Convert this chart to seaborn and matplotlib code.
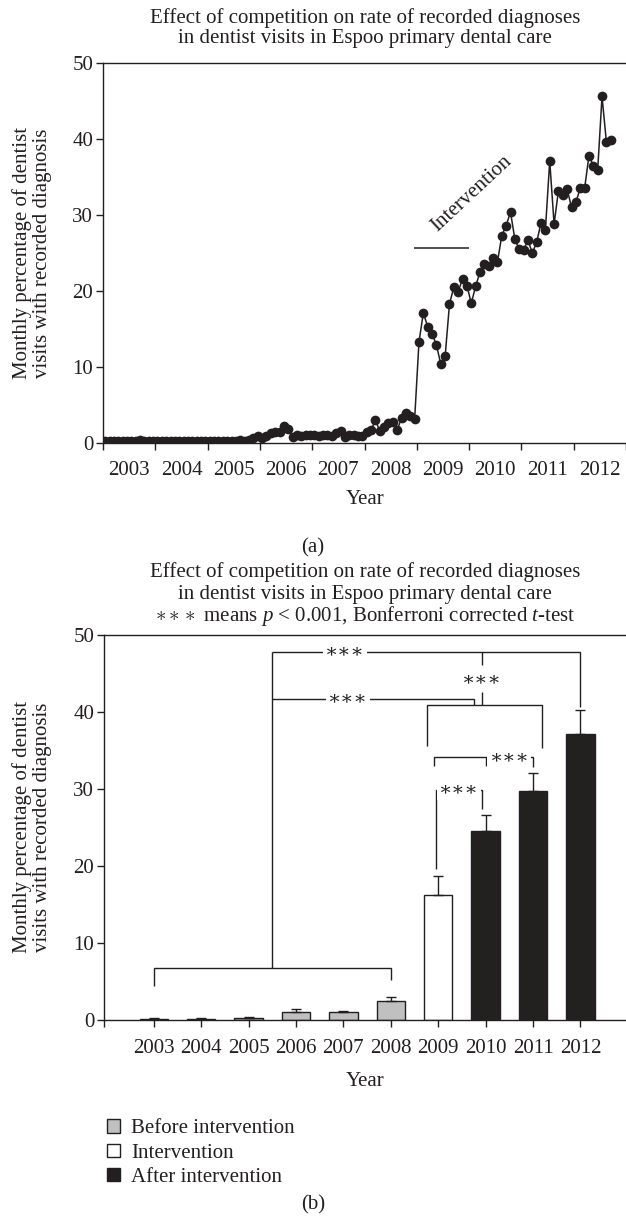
import numpy as np
import pandas as pd
import matplotlib
matplotlib.use("Agg")
import matplotlib.pyplot as plt
from matplotlib.patches import Patch
import seaborn as sns

# (a) monthly percentage of dentist visits with recorded diagnosis
rate_2003 = [0.3, 0.2, 0.3, 0.2, 0.3, 0.2, 0.2, 0.3, 0.4, 0.2, 0.2, 0.2]
rate_2004 = [0.3, 0.2, 0.2, 0.3, 0.2, 0.3, 0.3, 0.2, 0.3, 0.2, 0.3, 0.3]
rate_2005 = [0.2, 0.3, 0.2, 0.2, 0.3, 0.2, 0.3, 0.4, 0.3, 0.4, 0.6, 0.9]
rate_2006 = [0.6, 0.9, 1.3, 1.4, 1.5, 2.3, 1.9, 0.8, 1.0, 0.9, 1.0, 1.1]
rate_2007 = [1.0, 0.9, 1.1, 1.0, 0.9, 1.3, 1.6, 0.8, 1.0, 1.0, 0.9, 0.9]
rate_2008 = [1.5, 1.7, 3.0, 1.6, 2.1, 2.6, 2.8, 1.7, 3.3, 3.9, 3.5, 3.1]
rate_2009 = [13.3, 17.1, 15.3, 14.4, 12.9, 10.4, 11.4, 18.3, 20.5, 19.9, 21.6, 20.7]
rate_2010 = [18.4, 20.6, 22.5, 23.6, 23.3, 24.3, 23.8, 27.3, 28.6, 30.4, 26.8, 25.5]
rate_2011 = [25.4, 26.7, 25.0, 26.4, 29.0, 28.0, 37.1, 28.8, 33.2, 32.6, 33.4, 31.0]
rate_2012 = [31.7, 33.5, 33.5, 37.8, 36.5, 35.9, 45.6, 39.6, 39.9]
years = list(range(2003, 2013))

# (b) yearly means with upper error
bar_years = [str(y) for y in years]
bar_mean = [0.15, 0.15, 0.3, 1.1, 1.0, 2.5, 16.2, 24.5, 29.7, 37.1]
bar_err = [0.05, 0.05, 0.1, 0.3, 0.2, 0.5, 2.5, 2.1, 2.4, 3.1]
phases = ["Before intervention", "Intervention", "After intervention"]
bar_phase = [phases[0]] * 6 + [phases[1]] + [phases[2]] * 3

INK = "#231f20"
phase_colors = {phases[0]: "#c0c0c0", phases[1]: "white", phases[2]: INK}

sns.set_style("ticks")
plt.rcParams["font.family"] = ["Liberation Serif", "DejaVu Serif"]
plt.rcParams["mathtext.fontset"] = "custom"
plt.rcParams["mathtext.rm"] = "Liberation Serif"
plt.rcParams["mathtext.it"] = "Liberation Serif:italic"
plt.rcParams["axes.edgecolor"] = INK
plt.rcParams["axes.linewidth"] = 1.0
plt.rcParams["xtick.color"] = INK
plt.rcParams["ytick.color"] = INK
plt.rcParams["text.color"] = INK

FS = 15
W, H = 626, 1221
fig = plt.figure(figsize=(W / 100, H / 100), dpi=100)


def fx(px):
    return px / W


def fy(py):
    return 1 - py / H


def style_axes(ax):
    ax.spines["right"].set_visible(False)
    ax.set_ylim(0, 50)
    ax.set_yticks(range(0, 51, 10))
    ax.tick_params(axis="y", direction="out", length=5, width=1, labelsize=FS, pad=2)
    ax.tick_params(axis="x", direction="out", length=5, width=1, labelsize=FS)
    ax.set_xlabel("")
    ax.set_ylabel("")


# ---------- (a) ----------
ax1 = fig.add_axes([fx(103), fy(443), 1 - fx(103), fy(63) - fy(443)])
t, v = [], []
for y, vals in zip(years, [rate_2003, rate_2004, rate_2005, rate_2006, rate_2007,
                           rate_2008, rate_2009, rate_2010, rate_2011, rate_2012]):
    for m, val in enumerate(vals):
        t.append(y + (m + 0.5) / 12)
        v.append(val)
df_a = pd.DataFrame({"t": t, "rate": v})
sns.lineplot(data=df_a, x="t", y="rate", ax=ax1, estimator=None, color=INK, lw=1.1,
             marker="o", markersize=7, markeredgewidth=0, markerfacecolor=INK)
style_axes(ax1)
ax1.set_xlim(2003, 2013)
ax1.set_xticks(range(2003, 2014))
ax1.set_xticklabels([])
ax1.set_xticks([y + 0.5 for y in years], minor=True)
ax1.set_xticklabels(years, minor=True)
ax1.tick_params(axis="x", which="minor", length=0, labelsize=FS, pad=13)

ax1.hlines(25.7, 2008.95, 2010.0, color=INK, lw=1.1)
ax1.text(2010.05, 32.8, "Intervention", rotation=43, ha="center", va="center", fontsize=FS)

fig.text(fx(365), fy(18), "Effect of competition on rate of recorded diagnoses", ha="center", va="center", fontsize=FS)
fig.text(fx(365), fy(39), "in dentist visits in Espoo primary dental care", ha="center", va="center", fontsize=FS)
fig.text(fx(32), fy(253), "Monthly percentage of dentist\nvisits with recorded diagnosis", rotation=90,
         ha="center", va="center", fontsize=FS, linespacing=1.1)
fig.text(fx(365), fy(499), "Year", ha="center", va="center", fontsize=FS)
fig.text(fx(313), fy(548), "(a)", ha="center", va="center", fontsize=FS)

# ---------- (b) ----------
ax2 = fig.add_axes([fx(104), fy(1020), 1 - fx(104), fy(635) - fy(1020)])
df_b = pd.DataFrame({"year": bar_years, "mean": bar_mean, "err": bar_err, "phase": bar_phase})
sns.barplot(data=df_b, x="year", y="mean", hue="phase", hue_order=phases, palette=phase_colors,
            dodge=False, width=0.6, edgecolor=INK, linewidth=1, legend=False, ax=ax2)
pos = np.arange(len(bar_years))
ax2.errorbar(pos, df_b["mean"], yerr=[np.zeros(len(pos)), df_b["err"]], fmt="none",
             ecolor=INK, elinewidth=1, capsize=3.6, capthick=1)
style_axes(ax2)
ax2.set_xlim(-1.05, 9.96)
ax2.set_xticks(pos)
ax2.set_xticklabels(bar_years)
ax2.tick_params(axis="x", which="major", pad=9)
ax2.set_xticks([-1.05], minor=True)
ax2.tick_params(axis="x", which="minor", length=5, width=1)


def seg(xs, ys):
    ax2.plot(xs, ys, color=INK, lw=1, solid_capstyle="butt", solid_joinstyle="miter")


def stars(x, y):
    ax2.text(x, y, "∗∗∗", ha="center", va="center", fontsize=FS - 1,
             bbox=dict(fc="white", ec="none", pad=1.5))


# before-intervention bracket and its stem
seg([0, 0, 5, 5], [4.4, 6.8, 6.8, 5.2])
seg([2.5, 2.5], [6.8, 47.8])
# top comparison line to 2012
seg([2.5, 9, 9], [47.8, 47.8, 40.7])
stars(4.03, 47.8)
seg([6.93, 6.93], [47.8, 46.1])
stars(6.93, 44.2)
seg([6.93, 6.93], [42.6, 40.9])
# second line into the 2009-2011 bracket
seg([2.5, 6.75, 6.75], [41.7, 41.7, 40.9])
stars(4.09, 41.7)
seg([5.76, 5.76, 8.19, 8.19], [35.6, 40.9, 40.9, 35.3])
# 2009-2010 vs 2011
seg([5.92, 5.92, 8.0, 8.0], [33.0, 34.1, 34.1, 32.8])
seg([7.0, 7.0], [34.1, 33.0])
stars(7.5, 34.1)
# 2009 vs 2010
seg([5.95, 5.95, 6.93, 6.93], [19.6, 29.9, 29.9, 27.4])
stars(6.43, 29.9)

fig.text(fx(365), fy(572), "Effect of competition on rate of recorded diagnoses", ha="center", va="center", fontsize=FS)
fig.text(fx(365), fy(594), "in dentist visits in Espoo primary dental care", ha="center", va="center", fontsize=FS)
fig.text(fx(365), fy(616), r"$\ast\ast\ast$ means $p$ < 0.001, Bonferroni corrected $t$-test",
         ha="center", va="center", fontsize=FS)
fig.text(fx(32), fy(827), "Monthly percentage of dentist\nvisits with recorded diagnosis", rotation=90,
         ha="center", va="center", fontsize=FS, linespacing=1.1)
fig.text(fx(365), fy(1082), "Year", ha="center", va="center", fontsize=FS)

handles = [Patch(facecolor=phase_colors[p], edgecolor=INK, linewidth=1) for p in phases]
fig.legend(handles, phases, loc="upper left", bbox_to_anchor=(fx(99), fy(1111)), frameon=False,
           fontsize=FS, handlelength=0.6, handleheight=0.6, handletextpad=0.55, labelspacing=0.26,
           borderaxespad=0)
fig.text(fx(313), fy(1205), "(b)", ha="center", va="center", fontsize=FS)

fig.savefig("out.png", dpi=100)
